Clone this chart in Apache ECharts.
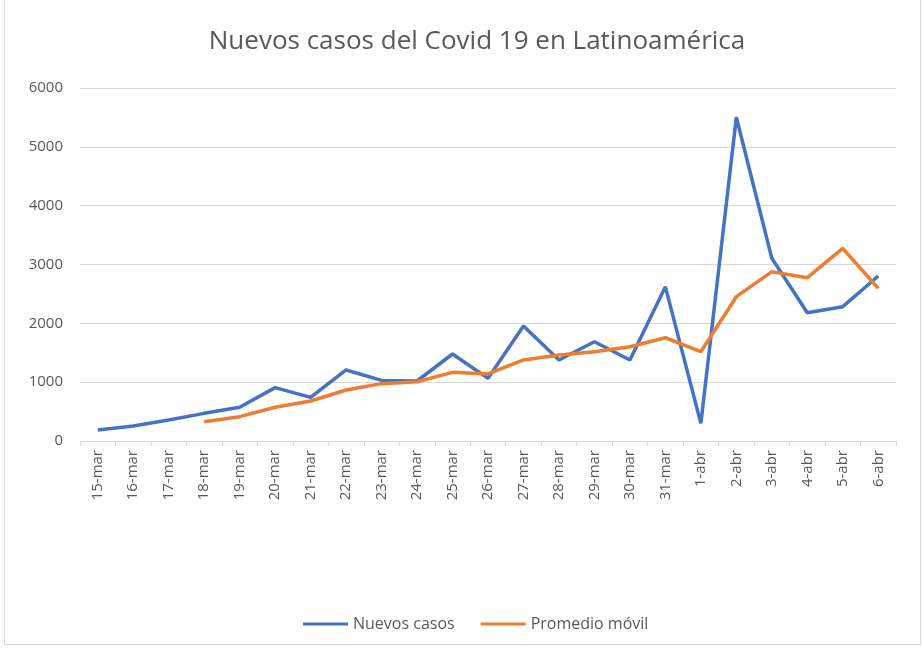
<!DOCTYPE html>
<html>
<head>
<meta charset="utf-8">
<script src="https://cdn.jsdelivr.net/npm/echarts@6/dist/echarts.min.js"></script>
<style>
html,body{margin:0;padding:0;background:#fff;}
#frame{position:absolute;left:4px;top:0;width:917px;height:645px;border:1px solid #d9d9d9;border-top:none;box-sizing:border-box;}
#chart{position:absolute;left:0;top:0;width:923px;height:649px;}
</style>
</head>
<body>
<div id="frame"></div>
<div id="chart"></div>
<script>
const categories = ['15-mar','16-mar','17-mar','18-mar','19-mar','20-mar','21-mar','22-mar','23-mar','24-mar','25-mar','26-mar','27-mar','28-mar','29-mar','30-mar','31-mar','1-abr','2-abr','3-abr','4-abr','5-abr','6-abr'];
const nuevosCasos = [187,255,357,470,573,907,742,1207,1030,1020,1479,1065,1955,1377,1688,1377,2620,300,5502,3105,2181,2283,2805];
const promedioMovil = [null,null,null,329,414,573,680,867,975,1008,1167,1139,1377,1462,1518,1603,1755,1518,2453,2878,2776,3275,2595];
const yTicks = [0,1000,2000,3000,4000,5000,6000];

const chart = echarts.init(document.getElementById('chart'));
const font = 'Open Sans';
chart.setOption({
  animation:false,
  backgroundColor:'transparent',
  title:{text:'Nuevos casos del Covid 19 en Latinoamérica',left:472,textAlign:'center',top:24,
    textStyle:{fontFamily:font,fontSize:26,fontWeight:'normal',color:'#595959'}},
  grid:{left:80,right:27,top:88,bottom:208},
  legend:{top:611,left:298,itemWidth:45,itemHeight:3,itemGap:26,icon:'rect',
    textStyle:{fontFamily:font,fontSize:16,color:'#595959'},
    data:['Nuevos casos','Promedio móvil']},
  xAxis:{type:'category',data:categories,boundaryGap:true,
    axisLine:{lineStyle:{color:'#d9d9d9'}},
    axisTick:{show:true,length:5,lineStyle:{color:'#d9d9d9'}},
    axisLabel:{rotate:90,fontFamily:font,fontSize:15,color:'#595959',margin:9}},
  yAxis:{type:'value',min:yTicks[0],max:yTicks[yTicks.length-1],interval:1000,
    axisLine:{show:false},axisTick:{show:false},
    splitLine:{lineStyle:{color:'#d9d9d9',width:1}},
    axisLabel:{fontFamily:font,fontSize:15,color:'#595959',margin:17,formatter:function(v){return String(v);}}},
  series:[
    {name:'Nuevos casos',type:'line',data:nuevosCasos,symbol:'none',
      lineStyle:{width:3.5,color:'#4472C4'},itemStyle:{color:'#4472C4'}},
    {name:'Promedio móvil',type:'line',data:promedioMovil,symbol:'none',
      lineStyle:{width:3.5,color:'#ED7D31'},itemStyle:{color:'#ED7D31'}}
  ]
});
</script>
</body>
</html>
